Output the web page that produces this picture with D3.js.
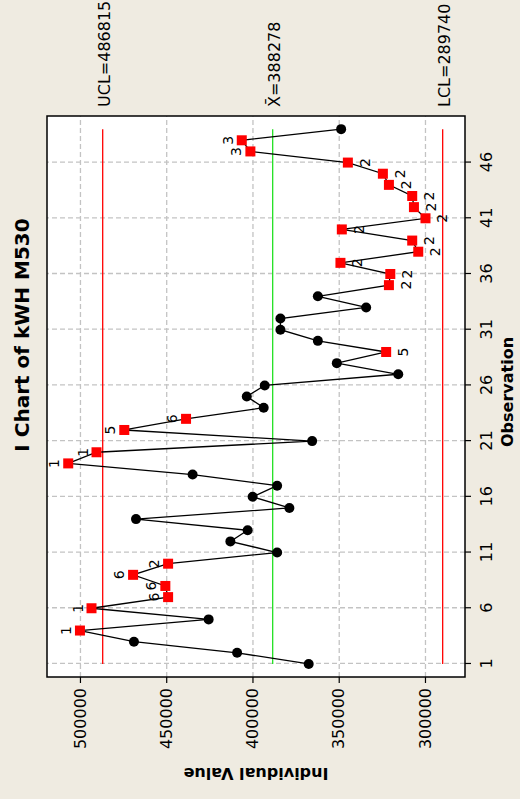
<!DOCTYPE html>
<html lang="en">
<head>
<meta charset="utf-8">
<title>I Chart of kWH M530</title>
<script src="https://d3js.org/d3.v7.min.js"></script>
<style type="text/css">
  body { margin: 0; background: #efebe1; }
  svg text { font-family: "DejaVu Sans", Verdana, sans-serif; fill: #000; }
  .grid line { stroke: #c3c3c3; stroke-width: 1.3; stroke-dasharray: 5,3; }
  .axis path { display: none; }
  .axis line { stroke: #000; stroke-width: 1.2; }
  .axis text { font-size: 16px; }
</style>
</head>
<body>
<script type="text/javascript">

// Data
var observations = d3.range(1, 50);
var kwh = [367400, 408900, 468700, 500000, 425400, 493300, 448900, 450500, 469200, 448900,
           385700, 412800, 402800, 467500, 378600, 399900, 385700, 434700, 506800, 490400,
           365400, 474300, 438500, 393500, 403300, 392900, 315500, 351100, 322500, 362100,
           383800, 383800, 334100, 362100, 320900, 320100, 349000, 303900, 307400, 348200,
           299700, 306400, 307400, 320900, 324400, 344700, 401200, 406200, 348600];
// failed test number per point ("" = none)
var tests = ["", "", "", "1", "", "1", "6", "6", "6", "2",
             "", "", "", "", "", "", "", "", "1", "1",
             "", "5", "6", "", "", "", "", "", "5", "",
             "", "", "", "", "2", "2", "2", "2", "2", "2",
             "2", "2", "2", "2", "2", "2", "3", "3", ""];
var valueTicks = [300000, 350000, 400000, 450000, 500000];
var obsTicks = [1, 6, 11, 16, 21, 26, 31, 36, 41, 46];
var limitNames = ["UCL=486815", "X\u0304=388278", "LCL=289740"];
var limitValues = [486815, 388278, 289740];
var limitColors = ["#ff0000", "#22e022", "#ff0000"];

// Svg parameters (chart drawn landscape, then turned a quarter left)
var W = 799, H = 520;
var pLeft = 122, pRight = 683, pTop = 47, pBottom = 465;

var svg = d3.select("body").append("svg")
    .attr("width", H)
    .attr("height", W);

svg.append("rect")
    .attr("width", H).attr("height", W)
    .attr("fill", "#efebe1");

var g = svg.append("g")
    .attr("transform", "translate(0," + W + ") rotate(-90)");

// Scales
var scaleX = d3.scaleLinear().domain([-0.17, 50.18]).range([pLeft, pRight]);
var scaleY = d3.scaleLinear().domain([519100, 276800]).range([pTop, pBottom]);

// Plot area
g.append("rect")
    .attr("x", pLeft).attr("y", pTop)
    .attr("width", pRight - pLeft).attr("height", pBottom - pTop)
    .attr("fill", "#fff");

// Gridlines
g.append("g")
    .attr("class", "grid")
    .attr("transform", "translate(" + pLeft + ",0)")
    .call(d3.axisLeft(scaleY).tickValues(valueTicks).tickSize(pLeft - pRight).tickFormat(""))
    .call(s => s.select(".domain").remove());

g.append("g")
    .attr("class", "grid")
    .attr("transform", "translate(0," + pBottom + ")")
    .call(d3.axisBottom(scaleX).tickValues(obsTicks).tickSize(pTop - pBottom).tickFormat(""))
    .call(s => s.select(".domain").remove());

// Axes
g.append("g")
    .attr("class", "axis")
    .attr("transform", "translate(" + pLeft + ",0)")
    .call(d3.axisLeft(scaleY).tickValues(valueTicks).tickSize(6).tickPadding(5).tickFormat(d3.format("d")))
    .selectAll("text").attr("font-size", 16).attr("font-family", null);

g.append("g")
    .attr("class", "axis")
    .attr("transform", "translate(0," + pBottom + ")")
    .call(d3.axisBottom(scaleX).tickValues(obsTicks).tickSize(6).tickPadding(10))
    .selectAll("text").attr("font-size", 16).attr("font-family", null);

// Control limits
limitValues.forEach(function(v, i) {
    g.append("line")
        .attr("x1", scaleX(1)).attr("x2", scaleX(49))
        .attr("y1", scaleY(v)).attr("y2", scaleY(v))
        .attr("stroke", limitColors[i])
        .attr("stroke-width", 1.3);
    g.append("text")
        .attr("x", 692)
        .attr("y", scaleY(v) + 7)
        .attr("font-size", 16)
        .text(limitNames[i]);
});

// Data line
var pts = observations.map(function(o, i) { return {obs: o, v: kwh[i], t: tests[i]}; });

g.append("path")
    .datum(pts)
    .attr("fill", "none")
    .attr("stroke", "#000")
    .attr("stroke-width", 1.3)
    .attr("d", d3.line().x(d => scaleX(d.obs)).y(d => scaleY(d.v)));

g.selectAll(".dot")
    .data(pts.filter(d => d.t === ""))
    .enter().append("circle")
    .attr("cx", d => scaleX(d.obs))
    .attr("cy", d => scaleY(d.v))
    .attr("r", 5)
    .attr("fill", "#000");

g.selectAll(".flag")
    .data(pts.filter(d => d.t !== ""))
    .enter().append("rect")
    .attr("x", d => scaleX(d.obs) - 5)
    .attr("y", d => scaleY(d.v) - 5)
    .attr("width", 10).attr("height", 10)
    .attr("fill", "#ff0000");

// test labels: above the point if above centre, else below
g.selectAll(".tlab")
    .data(pts.filter(d => d.t !== ""))
    .enter().append("text")
    .attr("x", d => scaleX(d.obs))
    .attr("y", d => d.v > limitValues[1] ? scaleY(d.v) - 9 : scaleY(d.v) + 22)
    .attr("text-anchor", "middle")
    .attr("font-size", 14)
    .text(d => d.t);

// Frame
g.append("rect")
    .attr("x", pLeft).attr("y", pTop)
    .attr("width", pRight - pLeft).attr("height", pBottom - pTop)
    .attr("fill", "none")
    .attr("stroke", "#000")
    .attr("stroke-width", 1.5);

// Titles
g.append("text")
    .attr("x", 464).attr("y", 28.5)
    .attr("text-anchor", "middle")
    .attr("font-size", 20)
    .attr("font-weight", "bold")
    .text("I Chart of kWH M530");

g.append("text")
    .attr("x", 407).attr("y", 513)
    .attr("text-anchor", "middle")
    .attr("font-size", 16)
    .attr("font-weight", "bold")
    .text("Observation");

g.append("text")
    .attr("transform", "translate(31," + ((pTop + pBottom) / 2) + ") rotate(-90)")
    .attr("text-anchor", "middle")
    .attr("font-size", 16)
    .attr("font-weight", "bold")
    .text("Individual Value");

</script>
</body>
</html>
